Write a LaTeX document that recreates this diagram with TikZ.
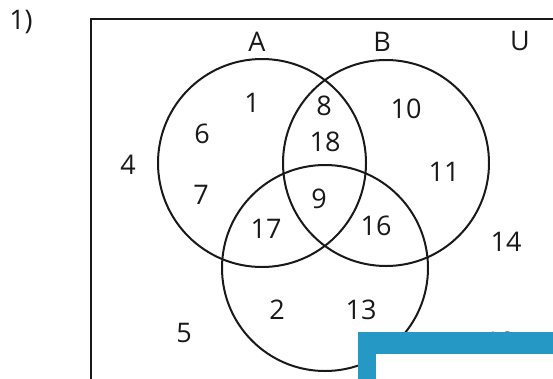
\documentclass[tikz,border=0pt]{standalone}
\usepackage{fontspec}
\setmainfont{Open Sans}
\definecolor{frameblue}{RGB}{37,152,197}
\begin{document}
\begin{tikzpicture}[x=1pt,y=-1pt,
  lbl/.style={inner sep=0pt,font=\fontsize{27}{30}\selectfont,text=black!90},
  ring/.style={draw=black!90,line width=2pt},
  border/.style={draw=black!90,line width=2.4pt}]
\useasboundingbox (0,0) rectangle (553,378);
% universe frame
\coordinate (tl) at (91,19);
\coordinate (tr) at (560,19);
\coordinate (bl) at (91,385);
\draw[border] (tr) -- (tl) -- (bl);
% circles
\draw[ring] (262,163) circle (104);
\draw[ring] (386,163) circle (103);
\draw[ring] (325,268) circle (103);
% labels
\node[lbl] (n1p) at (21,22) {1)};
\node[lbl] (nA) at (257,42) {A};
\node[lbl] (nB) at (382,42) {B};
\node[lbl] (nU) at (520,41) {U};
\node[lbl] (v1) at (252,103) {1};
\node[lbl] (v6) at (202,134) {6};
\node[lbl] (v8) at (324,106) {8};
\node[lbl] (v18) at (325,142) {18};
\node[lbl] (v4) at (128,165) {4};
\node[lbl] (v7) at (201,195) {7};
\node[lbl] (v10) at (406,109) {10};
\node[lbl] (v11) at (444,172) {11};
\node[lbl] (v14) at (506,242) {14};
\node[lbl] (v16) at (376,226) {16};
\node[lbl] (v9) at (319,199) {9};
\node[lbl] (v17) at (266,229) {17};
\node[lbl] (v2) at (277,310) {2};
\node[lbl] (v13) at (361,310) {13};
\node[lbl] (v5) at (184,333) {5};
\node[lbl] (v12) at (500,342) {12};
% blue corner overlay
\fill[frameblue] (358,332) -- (560,332) -- (560,354) -- (376,354) -- (376,385) -- (358,385) -- cycle;
\fill[white] (376,354) rectangle (560,385);
\end{tikzpicture}
\end{document}
